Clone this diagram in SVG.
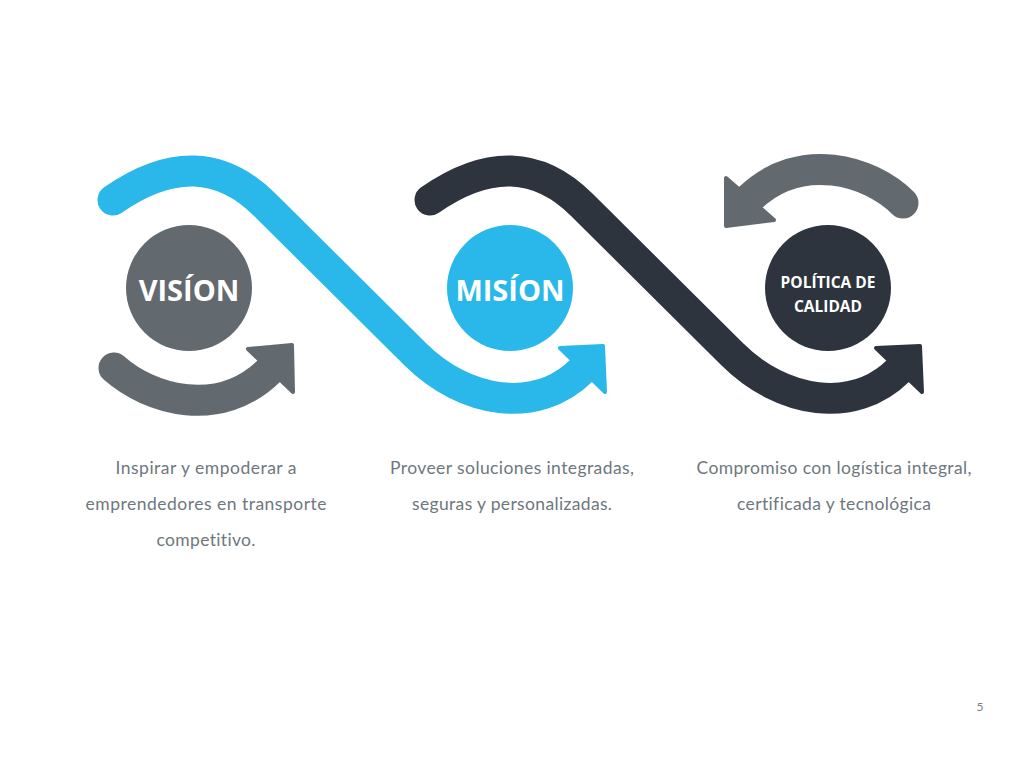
<svg xmlns="http://www.w3.org/2000/svg" width="1024" height="768" viewBox="0 0 1024 768">
<style>
.body{fill:none;stroke-width:31;stroke-linecap:round;}
.head{stroke-width:4;stroke-linejoin:round;}
.blue{stroke:#29B8E9;fill:#29B8E9;}
.dark{stroke:#2D343D;fill:#2D343D;}
.gray{stroke:#626A6F;fill:#626A6F;}
.title{font-family:"Open Sans","Noto Sans",sans-serif;font-weight:bold;fill:#FFFFFF;text-anchor:middle;}
.desc{font-family:Lato,"Noto Sans",sans-serif;font-size:17.5px;fill:#6E777E;text-anchor:middle;font-variant-ligatures:none;}
</style>
<rect width="1024" height="768" fill="#FFFFFF"/>
<g id="connectors">
  <g id="blue-wave">
    <path class="body blue" d="M113,200 Q199.5,139.5 265,205 L415,354 C465,404 537,415 582,370" style="fill:none"/>
    <polygon class="head blue" points="560,348 603,346 605,392"/>
  </g>
  <g id="dark-wave">
    <path class="body dark" d="M430,200 Q516.5,139.5 582,205 L732,354 C782,404 854,415 899,370" style="fill:none"/>
    <polygon class="head dark" points="876,348 920,346 922,392"/>
  </g>
  <g id="vision-arrow">
    <path class="body gray" d="M114,368 C150,400 220,420 270,370" style="fill:none"/>
    <polygon class="head gray" points="248,349 292,345 293,392"/>
  </g>
  <g id="politica-arrow">
    <path class="body gray" d="M903,203 C870,170 800,150 750,198" style="fill:none"/>
    <polygon class="head gray" points="726,178 726,226 774,220"/>
  </g>
</g>
<g id="vision">
  <circle cx="189" cy="288" r="63" fill="#626A6F"/>
  <text class="title" x="189" y="301" font-size="29">VISÍON</text>
</g>
<g id="mision">
  <circle cx="510" cy="288" r="63" fill="#29B8E9"/>
  <text class="title" x="510" y="301" font-size="29">MISÍON</text>
</g>
<g id="politica">
  <circle cx="828" cy="288" r="63" fill="#2D343D"/>
  <text class="title" x="828" y="288" font-size="15.5">POLÍTICA DE</text>
  <text class="title" x="828" y="312" font-size="15.5">CALIDAD</text>
</g>
<g id="vision-text">
  <text class="desc" x="206" y="474" textLength="181" lengthAdjust="spacing">Inspirar y empoderar a</text>
  <text class="desc" x="206" y="510" textLength="241" lengthAdjust="spacing">emprendedores en transporte</text>
  <text class="desc" x="206" y="546" textLength="99" lengthAdjust="spacing">competitivo.</text>
</g>
<g id="mision-text">
  <text class="desc" x="512" y="474" textLength="244" lengthAdjust="spacing">Proveer soluciones integradas,</text>
  <text class="desc" x="512" y="510" textLength="200" lengthAdjust="spacing">seguras y personalizadas.</text>
</g>
<g id="politica-text">
  <text class="desc" x="834" y="474" textLength="275" lengthAdjust="spacing">Compromiso con logística integral,</text>
  <text class="desc" x="834" y="510" textLength="194" lengthAdjust="spacing">certificada y tecnológica</text>
</g>
<text x="980" y="711" font-family="Lato,'Noto Sans',sans-serif" font-size="12" fill="#7A8085" text-anchor="middle">5</text>
</svg>
